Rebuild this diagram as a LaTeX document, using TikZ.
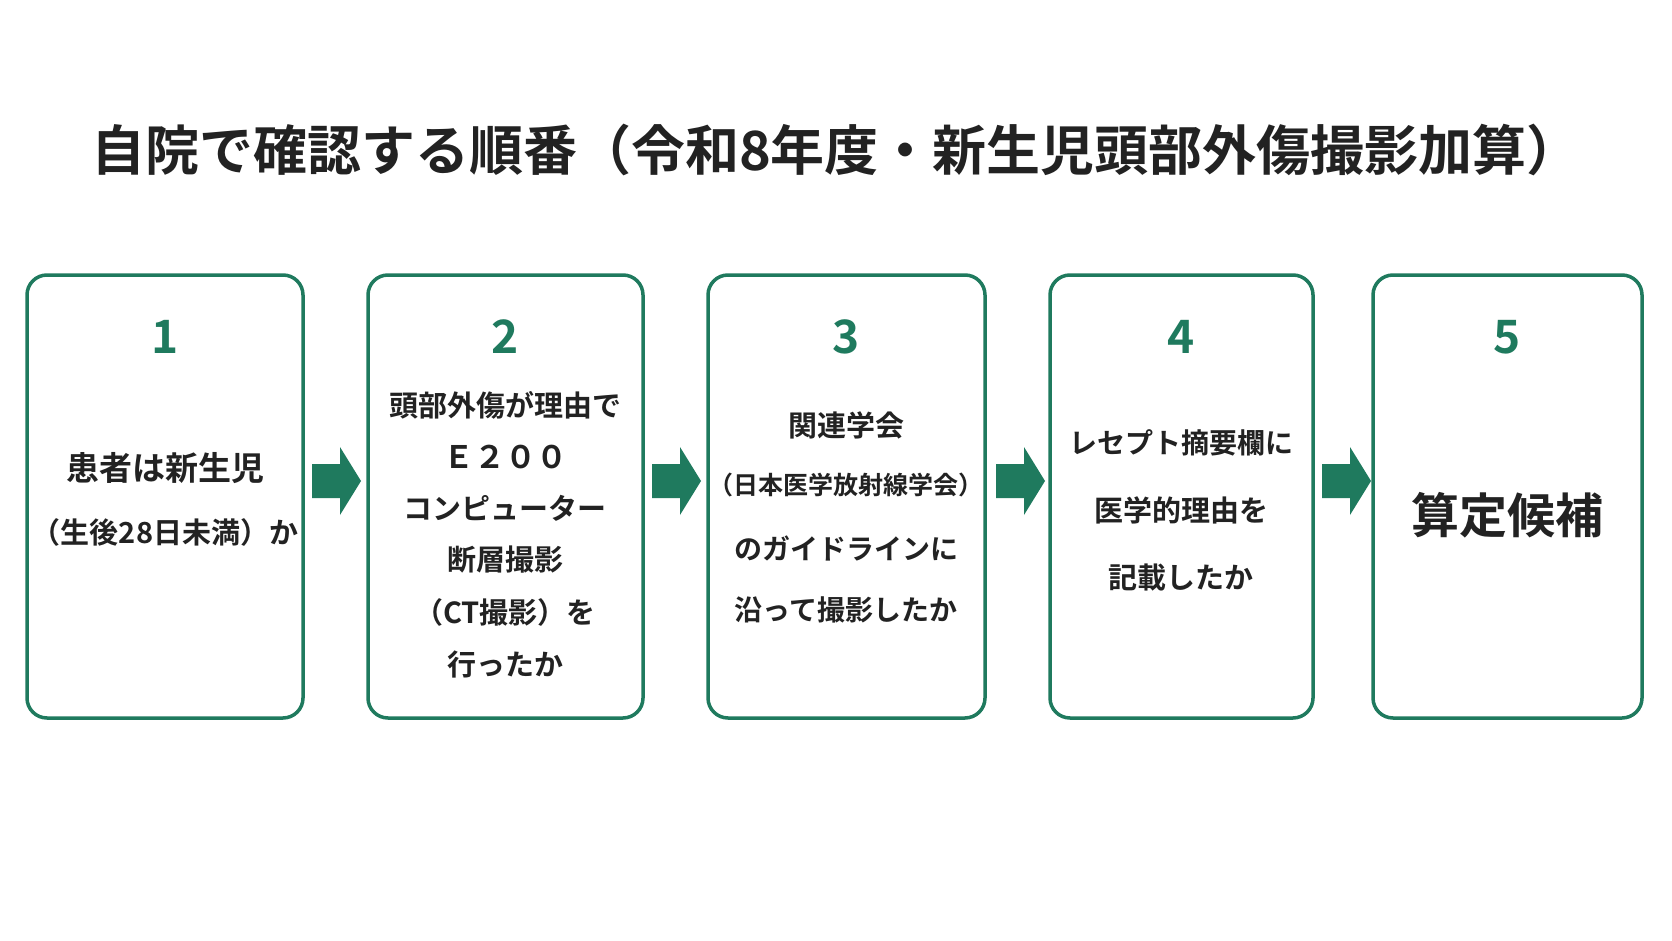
\documentclass[tikz,border=0pt]{standalone}
\usepackage{fontspec}
\setmainfont{Noto Sans CJK JP}[BoldFont={* Bold}]
\newfontfamily\jpb{Noto Sans CJK JP Bold}
\definecolor{tg}{HTML}{1F7A5E}
\definecolor{tx}{HTML}{222222}
\begin{document}
\begin{tikzpicture}[x=1pt,y=-1pt,
  box/.style={draw=tg,line width=3.5pt,rounded corners=20pt,fill=white},
  num/.style={text=tg,font=\jpb\fontsize{46}{46}\selectfont},
  ln/.style={text=tx,font=\jpb\fontsize{#1}{#1}\selectfont}]
\useasboundingbox (0,0) rectangle (1672,941);
\fill[white] (0,0) rectangle (1672,941);
\node[ln=54] (title) at (836,150) {自院で確認する順番（令和8年度・新生児頭部外傷撮影加算）};
\draw[box] (27,275) rectangle (303,718);
\draw[box] (368,275) rectangle (643,718);
\draw[box] (708,275) rectangle (985,718);
\draw[box] (1050,275) rectangle (1313,718);
\draw[box] (1373,275) rectangle (1642,718);
\foreach \x/\n in {165/1,505/2,846/3,1181/4,1507/5} \node[num] (n\n) at (\x,337) {\n};
\node[ln=33] (t11) at (165,468) {患者は新生児};
\node[ln=29] (t12) at (165,532) {（生後28日未満）か};
\node[ln=29] (t21) at (505,405) {頭部外傷が理由で};
\node[ln=31] (t22) at (505,457) {Ｅ２００};
\node[ln=29] (t23) at (505,508) {コンピューター};
\node[ln=29] (t24) at (505,560) {断層撮影};
\node[ln=29] (t25) at (505,612) {（CT撮影）を};
\node[ln=29] (t26) at (505,664) {行ったか};
\node[ln=29] (t31) at (846,425) {関連学会};
\node[ln=25] (t32) at (846,485) {（日本医学放射線学会）};
\node[ln=28] (t33) at (846,548) {のガイドラインに};
\node[ln=28] (t34) at (846,610) {沿って撮影したか};
\node[ln=28] (t41) at (1181,443) {レセプト摘要欄に};
\node[ln=29] (t42) at (1181,510) {医学的理由を};
\node[ln=29] (t43) at (1181,578) {記載したか};
\node[ln=48] (t51) at (1507,515) {算定候補};
\foreach \x in {312,652,996,1322}
  \fill[tg] (\x,464) -- ++(28,0) -- ++(0,-17) -- ++(21,34) -- ++(-21,34) -- ++(0,-17) -- ++(-28,0) -- cycle;
\end{tikzpicture}
\end{document}
